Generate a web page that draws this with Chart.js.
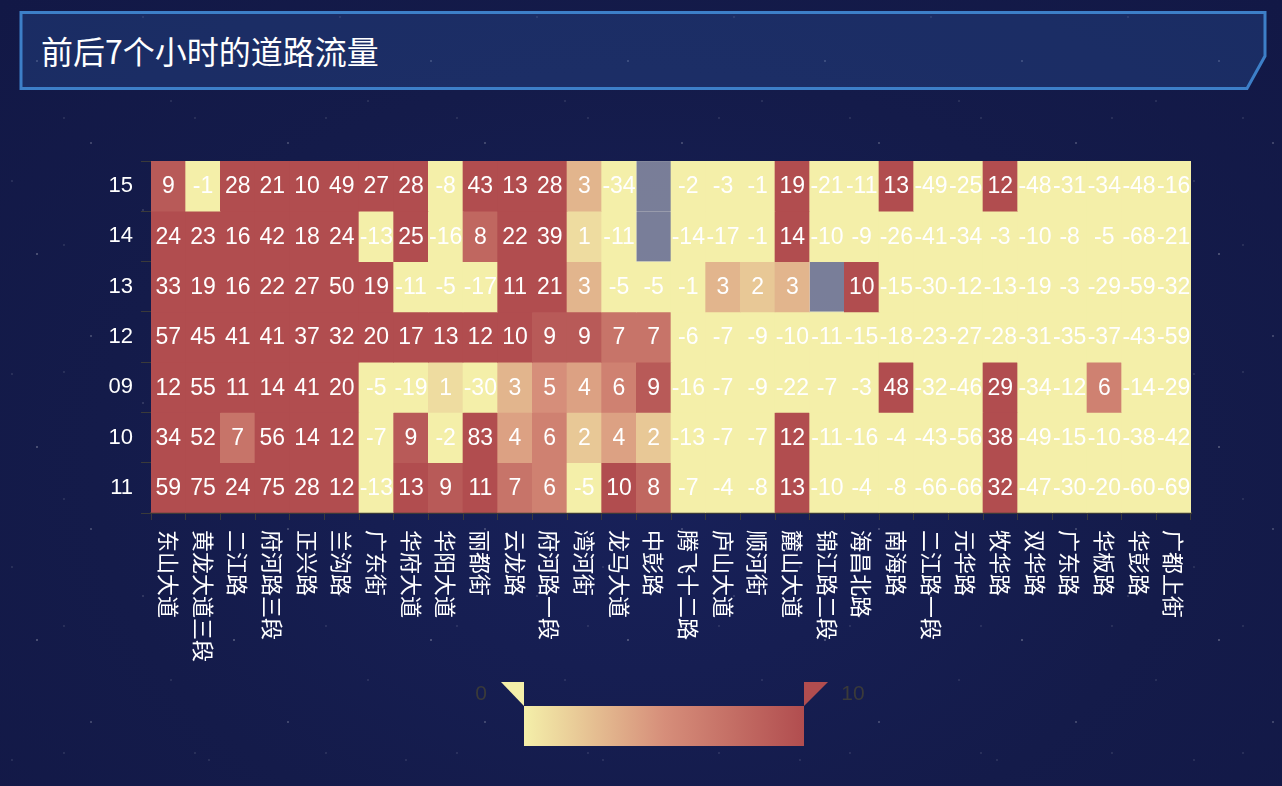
<!DOCTYPE html>
<html>
<head>
<meta charset="utf-8">
<script src="https://cdn.jsdelivr.net/npm/chart.js@4/dist/chart.umd.min.js"></script>
<style>
html,body{margin:0;padding:0;width:1282px;height:786px;overflow:hidden;background:#151c4c;}
#bg{position:absolute;left:0;top:0;width:1282px;height:786px;
 background:
  radial-gradient(1.2px 1.2px at 37px 61px, rgba(255,255,255,0.55), transparent 100%),
  radial-gradient(1px 1px at 143px 17px, rgba(255,255,255,0.4), transparent 100%),
  radial-gradient(1.5px 1.5px at 91px 143px, rgba(255,255,255,0.35), transparent 100%),
  radial-gradient(1px 1px at 171px 101px, rgba(255,255,255,0.3), transparent 100%),
  radial-gradient(1px 1px at 12px 181px, rgba(255,255,255,0.3), transparent 100%),
  radial-gradient(1px 1px at 64px 118px, rgba(255,255,255,0.3), transparent 100%),
  radial-gradient(ellipse at 50% 60%, #18215a 0%, #141b4a 60%, #121846 100%);
 background-size:197px 193px,197px 193px,197px 193px,197px 193px,197px 193px,131px 127px,100% 100%;}
#titlebox{position:absolute;left:0;top:0;}
#title{position:absolute;left:41px;top:30px;height:40px;line-height:40px;color:#fff;
 font-family:"Noto Sans CJK SC","Noto Sans",sans-serif;font-size:32px;white-space:nowrap;}
#wrap{position:absolute;left:0;top:0;width:1282px;height:786px;}
</style>
</head>
<body>
<div id="bg"></div>
<svg id="titlebox" width="1282" height="100">
 <polygon points="21,12.5 1265,12.5 1265,56 1247,88.5 21,88.5" fill="rgba(40,74,145,0.40)" stroke="#3d7fc8" stroke-width="3"/>
</svg>
<div id="title">前后7个小时的道路流量</div>
<div id="wrap"><canvas id="c" width="1282" height="786"></canvas></div>
<script>
// ---- data ----
const roads = ['东山大道','黄龙大道三段','二江路','府河路三段','正兴路','兰沟路','广东街','华府大道','华阳大道','丽都街','云龙路','府河路一段','湾河街','龙马大道','中彭路','腾飞十二路','庐山大道','顺河街','麓山大道','锦江路二段','海昌北路','南海路','二江路一段','元华路','牧华路','双华路','广东路','华板路','华彭路','广都上街'];
const hours = ['15','14','13','12','09','10','11']; // top to bottom
const h15 = [9,-1,28,21,10,49,27,28,-8,43,13,28,3,-34,null,-2,-3,-1,19,-21,-11,13,-49,-25,12,-48,-31,-34,-48,-16];
const h14 = [24,23,16,42,18,24,-13,25,-16,8,22,39,1,-11,null,-14,-17,-1,14,-10,-9,-26,-41,-34,-3,-10,-8,-5,-68,-21];
const h13 = [33,19,16,22,27,50,19,-11,-5,-17,11,21,3,-5,-5,-1,3,2,3,null,10,-15,-30,-12,-13,-19,-3,-29,-59,-32];
const h12 = [57,45,41,41,37,32,20,17,13,12,10,9,9,7,7,-6,-7,-9,-10,-11,-15,-18,-23,-27,-28,-31,-35,-37,-43,-59];
const h09 = [12,55,11,14,41,20,-5,-19,1,-30,3,5,4,6,9,-16,-7,-9,-22,-7,-3,48,-32,-46,29,-34,-12,6,-14,-29];
const h10 = [34,52,7,56,14,12,-7,9,-2,83,4,6,2,4,2,-13,-7,-7,12,-11,-16,-4,-43,-56,38,-49,-15,-10,-38,-42];
const h11 = [59,75,24,75,28,12,-13,13,9,11,7,6,-5,10,8,-7,-4,-8,13,-10,-4,-8,-66,-66,32,-47,-30,-20,-60,-69];
const rows = [h15,h14,h13,h12,h09,h10,h11];
const rangeMin = 0, rangeMax = 10;
const rangeColors = [[244,239,169],[214,142,122],[177,77,79]];
const emptyColor = 'rgba(204,206,214,0.55)';

function colorFor(v){
  if (v === null || v === undefined) return emptyColor;
  let t = (v - rangeMin) / (rangeMax - rangeMin);
  t = Math.max(0, Math.min(1, t));
  const seg = t * (rangeColors.length - 1);
  const i = Math.min(Math.floor(seg), rangeColors.length - 2);
  const f = seg - i;
  const a = rangeColors[i], b = rangeColors[i+1];
  const c = a.map((x,k)=>Math.round(x + (b[k]-x)*f));
  return 'rgb(' + c.join(',') + ')';
}
const nRows = hours.length;
const datasets = rows.map((vals, r) => ({
  label: hours[r],
  data: vals.map(() => [nRows - 1 - r, nRows - r]),
  values: vals,
  backgroundColor: vals.map(colorFor),
  borderWidth: 0,
  categoryPercentage: 1,
  barPercentage: 1,
  grouped: false
}));

const isInt = v => Math.abs(v - Math.round(v)) < 1e-6;

const overlay = {
  id: 'overlay',
  afterDraw(chart){
    const ctx = chart.ctx;
    ctx.save();
    // cell values
    ctx.fillStyle = '#fff';
    ctx.font = '23px "Liberation Sans", Arial, sans-serif';
    ctx.textAlign = 'center';
    ctx.textBaseline = 'middle';
    chart.data.datasets.forEach((ds, di) => {
      const meta = chart.getDatasetMeta(di);
      meta.data.forEach((el, i) => {
        const v = ds.values[i];
        if (v === null) return;
        const p = el.getCenterPoint();
        ctx.fillText(String(v), p.x, p.y + 1);
      });
    });
    // x labels rotated clockwise
    const xs = chart.scales.x;
    ctx.font = '22px "Noto Sans CJK SC", sans-serif';
    ctx.textAlign = 'left';
    ctx.textBaseline = 'middle';
    roads.forEach((name, i) => {
      const x = xs.getPixelForValue(i);
      ctx.save();
      ctx.translate(x, xs.top + 17);
      ctx.rotate(Math.PI / 2);
      ctx.fillText(name, 0, 0);
      ctx.restore();
    });
    // visual map
    const bx = 524, by = 706, bw = 280, bh = 40;
    const g = ctx.createLinearGradient(bx, 0, bx + bw, 0);
    rangeColors.forEach((c, k) => g.addColorStop(k / (rangeColors.length - 1), 'rgb(' + c.join(',') + ')'));
    ctx.fillStyle = g;
    ctx.fillRect(bx, by, bw, bh);
    ctx.fillStyle = colorFor(rangeMin);
    ctx.beginPath(); ctx.moveTo(bx - 23, by - 24); ctx.lineTo(bx, by - 24); ctx.lineTo(bx, by); ctx.closePath(); ctx.fill();
    ctx.fillStyle = colorFor(rangeMax);
    ctx.beginPath(); ctx.moveTo(bx + bw, by - 24); ctx.lineTo(bx + bw + 24, by - 24); ctx.lineTo(bx + bw, by); ctx.closePath(); ctx.fill();
    ctx.fillStyle = '#3a3a3a';
    ctx.font = '21px "Liberation Sans", Arial, sans-serif';
    ctx.textAlign = 'center';
    ctx.fillText(String(rangeMin), 481, 694);
    ctx.fillText(String(rangeMax), 853, 694);
    ctx.restore();
  }
};

new Chart(document.getElementById('c'), {
  type: 'bar',
  data: { labels: roads, datasets },
  plugins: [overlay],
  options: {
    responsive: false,
    animation: false,
    events: [],
    layout: { padding: { left: 0, top: 161, right: 91, bottom: 0 } },
    plugins: { legend: { display: false }, tooltip: { enabled: false } },
    scales: {
      x: {
        type: 'category',
        offset: true,
        z: 1,
        grid: { offset: true, drawOnChartArea: true, color: 'rgba(110,110,110,0.28)', tickColor: '#3a3a3a', tickLength: 7, lineWidth: 1 },
        border: { display: true, color: '#3a3a3a', width: 2 },
        ticks: { autoSkip: false, maxRotation: 0, minRotation: 0, callback: () => '' },
        afterFit: s => { s.height = 273; }
      },
      y: {
        type: 'linear',
        min: 0, max: nRows,
        z: 1,
        border: { display: false },
        grid: {
          drawOnChartArea: true,
          color: ctx => (ctx.tick && isInt(ctx.tick.value)) ? 'rgba(110,110,110,0.28)' : 'transparent',
          tickColor: ctx => (ctx.tick && isInt(ctx.tick.value)) ? '#3a3a3a' : 'transparent',
          tickLength: 10
        },
        ticks: {
          stepSize: 0.5,
          autoSkip: false,
          padding: 8,
          color: '#ffffff',
          font: { size: 22, family: '"Liberation Sans", Arial, sans-serif' },
          callback: v => isInt(v) ? '' : hours[nRows - 1 - Math.floor(v)]
        },
        afterFit: s => { s.width = 151; }
      }
    }
  }
});
</script>
</body>
</html>
